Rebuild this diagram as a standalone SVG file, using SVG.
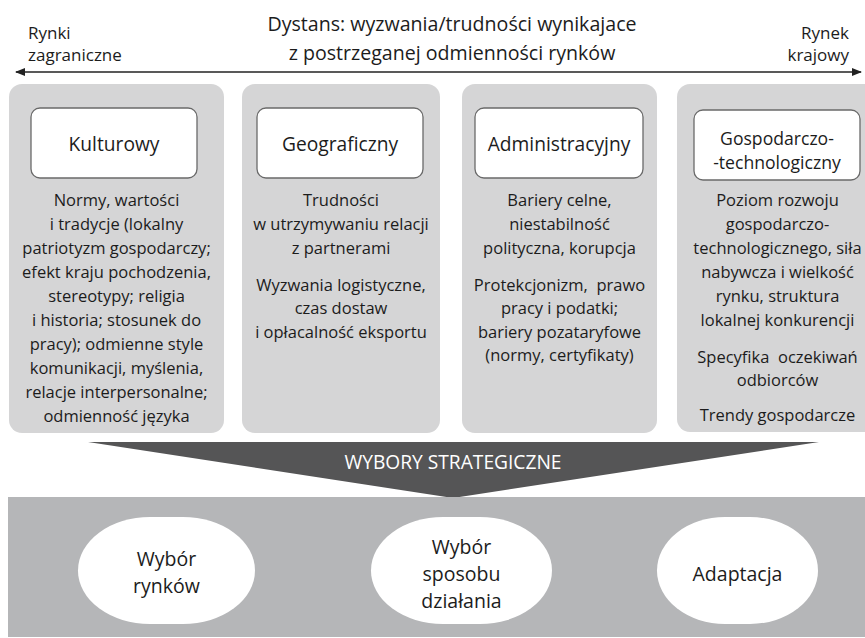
<svg xmlns="http://www.w3.org/2000/svg" width="865" height="638" viewBox="0 0 865 638">
<defs>
<marker id="ah" viewBox="0 0 10 8" refX="9" refY="4" markerWidth="10" markerHeight="8" markerUnits="userSpaceOnUse" orient="auto-start-reverse">
<path d="M0,0 L10,4 L0,8 Z" fill="#222"/>
</marker>
<style>
text{font-family:"Open Sans","Noto Sans","DejaVu Sans",sans-serif;fill:#1c1c1c}
.t{font-size:19.6px;text-anchor:middle}
.s{font-size:17px}
.b{font-size:16.5px;text-anchor:middle}
.h{font-size:19.2px;text-anchor:middle}
.h2{font-size:17.6px;text-anchor:middle}
.panel{fill:#d5d5d6}
.box{fill:#fff;stroke:#6a6a6a;stroke-width:1.3}
.oval{fill:#fff}
.e{font-size:19.5px;text-anchor:middle}
</style>
</defs>
<rect width="865" height="638" fill="#fff"/>

<g id="title">
<text class="t" x="452" y="31">Dystans: wyzwania/trudności wynikajace</text>
<text class="t" x="452" y="60">z postrzeganej odmienności rynków</text>
</g>
<g id="rynki-zagraniczne">
<text class="s" x="28" y="39">Rynki</text>
<text class="s" x="28" y="61">zagraniczne</text>
</g>
<g id="rynek-krajowy">
<text class="s" x="849" y="39" text-anchor="end">Rynek</text>
<text class="s" x="849" y="61" text-anchor="end">krajowy</text>
</g>

<g id="connectors">
<line x1="16" y1="72" x2="861" y2="72" stroke="#222" stroke-width="1.3" marker-start="url(#ah)" marker-end="url(#ah)"/>
</g>

<g id="kulturowy">
<rect class="panel" x="9" y="84" width="215" height="349" rx="13"/>
<rect class="box" x="31" y="108" width="166" height="70" rx="9"/>
<text class="h" x="114" y="151">Kulturowy</text>
<text class="b" x="116.5" y="206">Normy, wartości</text>
<text class="b" x="116.5" y="230">i tradycje (lokalny</text>
<text class="b" x="116.5" y="254">patriotyzm gospodarczy;</text>
<text class="b" x="116.5" y="278">efekt kraju pochodzenia,</text>
<text class="b" x="116.5" y="302">stereotypy; religia</text>
<text class="b" x="116.5" y="326">i historia; stosunek do</text>
<text class="b" x="116.5" y="350">pracy); odmienne style</text>
<text class="b" x="116.5" y="374">komunikacji, myślenia,</text>
<text class="b" x="116.5" y="398">relacje interpersonalne;</text>
<text class="b" x="116.5" y="422">odmienność języka</text>
</g>

<g id="geograficzny">
<rect class="panel" x="242" y="84" width="198" height="349" rx="13"/>
<rect class="box" x="257" y="108" width="166" height="70" rx="9"/>
<text class="h" x="340" y="151">Geograficzny</text>
<text class="b" x="341" y="206">Trudności</text>
<text class="b" x="341" y="230">w utrzymywaniu relacji</text>
<text class="b" x="341" y="254">z partnerami</text>
<text class="b" x="341" y="291">Wyzwania logistyczne,</text>
<text class="b" x="341" y="314">czas dostaw</text>
<text class="b" x="341" y="338">i opłacalność eksportu</text>
</g>

<g id="administracyjny">
<rect class="panel" x="462" y="84" width="195" height="349" rx="13"/>
<rect class="box" x="475" y="108" width="168" height="70" rx="9"/>
<text class="h" x="559" y="151">Administracyjny</text>
<text class="b" x="559.5" y="206">Bariery celne,</text>
<text class="b" x="559.5" y="230">niestabilność</text>
<text class="b" x="559.5" y="254">polityczna, korupcja</text>
<text class="b" x="559.5" y="291" xml:space="preserve">Protekcjonizm,  prawo</text>
<text class="b" x="559.5" y="314">pracy i podatki;</text>
<text class="b" x="559.5" y="338">bariery pozataryfowe</text>
<text class="b" x="559.5" y="361">(normy, certyfikaty)</text>
</g>

<g id="gospodarczo-technologiczny">
<rect class="panel" x="677" y="84" width="201" height="348" rx="13"/>
<rect class="box" x="694" y="110" width="166" height="70" rx="9"/>
<text class="h2" x="777" y="145">Gospodarczo-</text>
<text class="h2" x="777" y="169">-technologiczny</text>
<text class="b" x="777.5" y="206">Poziom rozwoju</text>
<text class="b" x="777.5" y="230">gospodarczo-</text>
<text class="b" x="777.5" y="254">technologicznego, siła</text>
<text class="b" x="777.5" y="278">nabywcza i wielkość</text>
<text class="b" x="777.5" y="302">rynku, struktura</text>
<text class="b" x="777.5" y="326">lokalnej konkurencji</text>
<text class="b" x="777.5" y="363" xml:space="preserve">Specyfika  oczekiwań</text>
<text class="b" x="777.5" y="386">odbiorców</text>
<text class="b" x="777.5" y="421">Trendy gospodarcze</text>
</g>

<g id="wybory-strategiczne">
<polygon points="88,442 819,442 453,498" fill="#555556"/>
<text class="h" x="453" y="469" style="fill:#fff">WYBORY STRATEGICZNE</text>
</g>

<g id="choices-band">
<rect x="8" y="497" width="857" height="140" fill="#b5b6b8"/>
</g>

<g id="wybor-rynkow">
<rect class="oval" x="78" y="517" width="177" height="107" rx="72" ry="53.5"/>
<text class="e" x="166.5" y="566">Wybór</text>
<text class="e" x="166.5" y="593">rynków</text>
</g>

<g id="wybor-sposobu">
<rect class="oval" x="371" y="517" width="181" height="107" rx="72" ry="53.5"/>
<text class="e" x="461.5" y="554">Wybór</text>
<text class="e" x="461.5" y="581">sposobu</text>
<text class="e" x="461.5" y="608">działania</text>
</g>

<g id="adaptacja">
<rect class="oval" x="657" y="517" width="161" height="107" rx="68" ry="53.5"/>
<text class="e" x="737.5" y="581">Adaptacja</text>
</g>
</svg>
